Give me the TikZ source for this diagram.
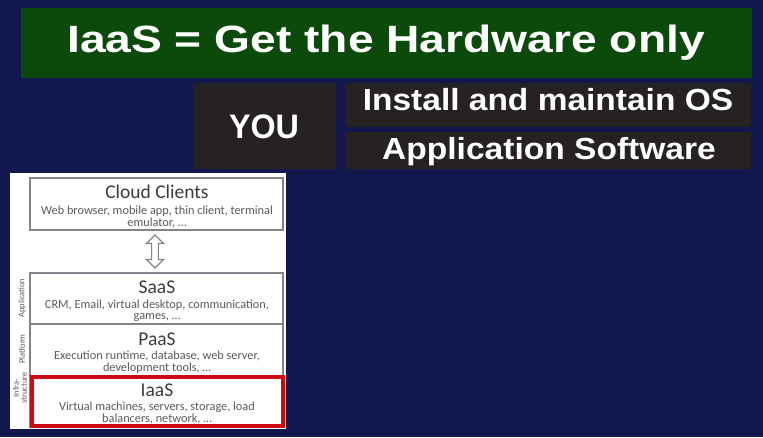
\documentclass[tikz,border=0pt]{standalone}
\usepackage{fontspec}
\setmainfont{Liberation Sans}
\newfontfamily\calfont{Carlito}
\usetikzlibrary{shapes.arrows}
\definecolor{navy}{RGB}{18,24,78}
\definecolor{banner}{RGB}{11,74,11}
\definecolor{darkbox}{RGB}{38,34,35}
\definecolor{layerline}{RGB}{130,130,140}
\definecolor{layertext}{RGB}{60,60,60}
\definecolor{desctext}{RGB}{90,90,90}
\definecolor{hilite}{RGB}{205,10,20}
\tikzset{
  headline/.style={text=white, font=\bfseries, anchor=base, inner sep=0pt},
  darkpanel/.style={fill=darkbox, draw=none},
  layer/.style={draw=layerline, line width=1.3pt, fill=white},
  layertitle/.style={font=\calfont\fontsize{19.5}{20}\selectfont, text=layertext, inner sep=0pt,
    text height=12.6pt, text depth=0pt},
  layerdesc/.style={font=\calfont\fontsize{12.3}{11.5}\selectfont, text=desctext, align=center, inner sep=0pt},
  sidelabel/.style={font=\calfont\fontsize{8.5}{8}\selectfont, text=desctext, align=center, rotate=90, inner sep=0pt}
}
\begin{document}
\begin{tikzpicture}[x=1pt, y=-1pt]
\useasboundingbox (0,0) rectangle (763,437);
\fill[navy] (0,0) rectangle (763,437);

% headline banner
\fill[banner] (21,8) rectangle (752,78);
\node[headline, xscale=1.215, font=\bfseries\fontsize{38}{40}\selectfont] (title) at (386,52) {IaaS = Get the Hardware only};

% who does what
\fill[darkpanel] (193,83) rectangle (336,169);
\fill[darkpanel] (345,83) rectangle (751,127);
\fill[darkpanel] (345,132) rectangle (751,169);
\node[headline, xscale=0.95, font=\bfseries\fontsize{34}{36}\selectfont] (you) at (264,138) {YOU};
\node[headline, xscale=1.098, font=\bfseries\fontsize{30.5}{32}\selectfont] (os) at (548,110) {Install and maintain OS};
\node[headline, xscale=1.10, font=\bfseries\fontsize{30.5}{32}\selectfont] (apps) at (549,159) {Application Software};

% cloud stack panel
\fill[white] (10,173) rectangle (286,429);
\draw[layer] (30,178) rectangle (283,230);
\draw[layer] (30,273) rectangle (283,324);
\draw[layer] (30,324) rectangle (283,377);
\draw[layer] (30,377) rectangle (283,427);

\node[layertitle] (cloud) at (157,192) {Cloud Clients};
\node[layerdesc] (clouddesc) at (157,217) {Web browser, mobile app, thin client, terminal\\emulator, \dots};
\node[layertitle] (saas) at (157,287) {SaaS};
\node[layerdesc] (saasdesc) at (157,311) {CRM, Email, virtual desktop, communication,\\games, \dots};
\node[layertitle] (paas) at (157,339) {PaaS};
\node[layerdesc] (paasdesc) at (157,362) {Execution runtime, database, web server,\\development tools, \dots};
\node[layertitle] (iaas) at (157,390) {IaaS};
\node[layerdesc] (iaasdesc) at (157,413) {Virtual machines, servers, storage, load\\balancers, network, \dots};

% highlight of the infrastructure layer
\draw[hilite, line width=3.6pt] (32,377) rectangle (283,426);

% two-way link between clients and services
\node[double arrow, draw=layerline, line width=1.1pt, fill=white, rotate=90,
      minimum height=33pt, minimum width=17pt, double arrow head extend=4.5pt,
      inner sep=2.5pt] (link) at (155,251.5) {};

% side labels
\node[sidelabel] (lapp) at (22,298) {Application};
\node[sidelabel] (lplat) at (22,349) {Platform};
\node[sidelabel] (linfra) at (20,388) {Infra-\\structure};
\end{tikzpicture}
\end{document}
